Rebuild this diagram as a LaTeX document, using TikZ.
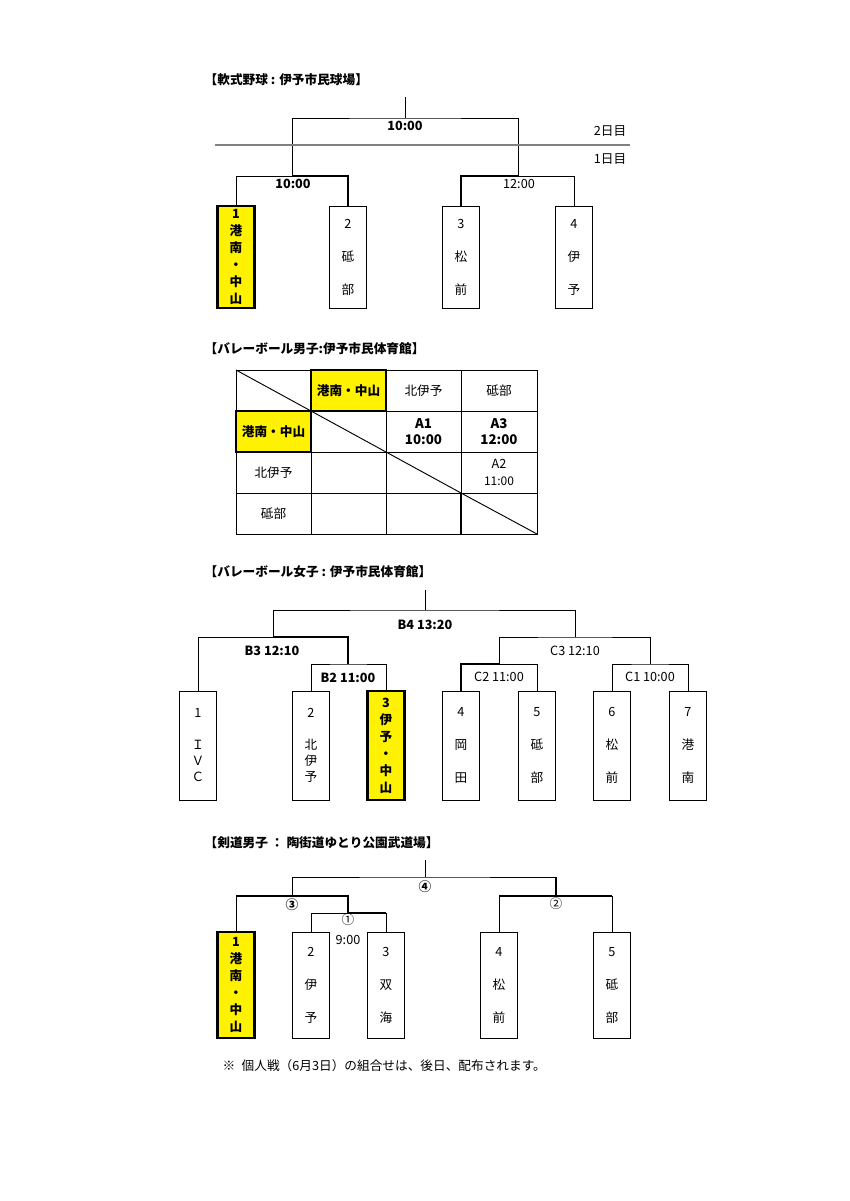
\documentclass[tikz,border=0pt]{standalone}
\usepackage{fontspec}
\setmainfont{Noto Sans CJK JP}
\setsansfont{Noto Sans CJK JP}
\begin{document}
\begin{tikzpicture}[x=0.75pt,y=-0.75pt,
  f/.style={font=\fontsize{9.5}{11}\selectfont},
  fb/.style={font=\fontsize{9.5}{11}\selectfont\bfseries},
  ttl/.style={anchor=west,font=\fontsize{9.5}{11}\selectfont\bfseries},
  box/.style={draw,line width=0.6pt,minimum width=27.75pt,inner sep=0pt,align=center},
  ybox/.style={box,fill=yellow,line width=1.6pt},
  ln/.style={line width=0.7pt},
  tk/.style={line width=1.5pt},
  sp33/.style={font=\fontsize{9.5}{24.75}\selectfont},
  sp17/.style={font=\fontsize{9.5}{12.75}\selectfont\bfseries},
  sp16/.style={font=\fontsize{9.5}{12}\selectfont}]
\useasboundingbox (0,0) rectangle (849,1201);
% ===== baseball
\node[ttl] (t1) at (200,80) {【軟式野球 : 伊予市民球場】};
\node[ybox,minimum height=76.5pt,sp17] (a1) at (236,257) {1\\港\\南\\・\\中\\山};
\node[box,minimum height=76.5pt,sp33] (a2) at (348,257) {2\\砥\\部};
\node[box,minimum height=76.5pt,sp33] (a3) at (461,257) {3\\松\\前};
\node[box,minimum height=76.5pt,sp33] (a4) at (574,257) {4\\伊\\予};
\coordinate (aL) at (292,176); \coordinate (aR) at (518,176);
\coordinate (aT) at (405,118); \coordinate (aTop) at (405,97);
\draw[ln] (a1.north) |- (aL); \draw[tk] (aL) -| (a2.north);
\draw[tk] (a3.north) |- (aR); \draw[ln] (aR) -| (a4.north);
\draw[ln] (aL) |- (aT) -| (aR); \draw[ln] (aT) -- (aTop);
\draw[gray,line width=1pt] (215,145) -- (630,145);
\node[fb] at (405,126) {10:00};
\node[fb] at (293,184) {10:00};
\node[f] at (519,184) {12:00};
\node[f] at (610,131) {2日目};
\node[f] at (610,159) {1日目};
% ===== volleyball men
\node[ttl] (t2) at (200,349) {【バレーボール男子:伊予市民体育館】};
\draw[ln] (236,370) rectangle (537,534);
\foreach \x in {311,386,461} \draw[ln] (\x,370) -- (\x,534);
\foreach \y in {411,452,493} \draw[ln] (236,\y) -- (537,\y);
\draw[ln] (236,370) -- (311,411);
\draw[ln] (311,411) -- (461,493);
\draw[ln] (461,493) -- (537,534);
\draw[tk] (461,493) -- (461,534);
\node[ybox,minimum width=56.25pt,minimum height=30.75pt,fb] (m1) at (348.5,390.5) {港南・中山};
\node[ybox,minimum width=56.25pt,minimum height=30.75pt,fb] (m2) at (273.5,431.5) {港南・中山};
\node[f] at (423.5,390.5) {北伊予};
\node[f] at (499,390.5) {砥部};
\node[f] at (273.5,472.5) {北伊予};
\node[f] at (273.5,513.5) {砥部};
\node[fb,align=center,font=\fontsize{10}{12}\selectfont\bfseries] at (423.5,431.5) {A1\\10:00};
\node[fb,align=center,font=\fontsize{10}{12}\selectfont\bfseries] at (499,431.5) {A3\\12:00};
\node[f,align=center,font=\fontsize{9.5}{12.5}\selectfont] at (499,472.5) {A2\\{\small 11:00}};
% ===== volleyball women
\node[ttl] (t3) at (200,572) {【バレーボール女子 : 伊予市民体育館】};
\node[box,minimum height=81.75pt,sp16] (b1) at (198,745.5) {1\\[12pt]Ｉ\\Ｖ\\Ｃ};
\node[box,minimum height=81.75pt,sp16] (b2) at (311,745.5) {2\\[12pt]北\\伊\\予};
\node[ybox,minimum height=81.75pt,sp17] (b3) at (386,745.5) {3\\伊\\予\\・\\中\\山};
\node[box,minimum height=81.75pt,sp33] (b4) at (461,745.5) {4\\岡\\田};
\node[box,minimum height=81.75pt,sp33] (b5) at (537,745.5) {5\\砥\\部};
\node[box,minimum height=81.75pt,sp33] (b6) at (612,745.5) {6\\松\\前};
\node[box,minimum height=81.75pt,sp33] (b7) at (688,745.5) {7\\港\\南};
\coordinate (bB2) at (348,664); \coordinate (bB3) at (273,637);
\coordinate (bC2) at (499,664); \coordinate (bC1) at (650,664);
\coordinate (bC3) at (575,637); \coordinate (bB4) at (425,610); \coordinate (bTop) at (425,590);
\draw[ln] (b2.north) |- (bB2) -| (b3.north);
\draw[ln] (b1.north) |- (bB3); \draw[tk] (bB3) -| (bB2);
\draw[tk] (b4.north) |- (bC2); \draw[ln] (bC2) -| (b5.north);
\draw[ln] (b6.north) |- (bC1) -| (b7.north);
\draw[ln] (bC2) |- (bC3) -| (bC1);
\draw[ln] (bB3) |- (bB4) -| (bC3); \draw[ln] (bB4) -- (bTop);
\node[fb] at (425,625) {B4 13:20};
\node[fb] at (272,651) {B3 12:10};
\node[fb] at (348,678) {B2 11:00};
\node[f] at (575,651) {C3 12:10};
\node[f] at (499,677) {C2 11:00};
\node[f] at (650,677) {C1 10:00};
% ===== kendo
\node[ttl] (t4) at (200,843) {【剣道男子 ： 陶街道ゆとり公園武道場】};
\node[ybox,minimum height=79.5pt,sp17] (k1) at (236,985) {1\\港\\南\\・\\中\\山};
\node[box,minimum height=79.5pt,sp33] (k2) at (311,985) {2\\伊\\予};
\node[box,minimum height=79.5pt,sp33] (k3) at (386,985) {3\\双\\海};
\node[box,minimum height=79.5pt,sp33] (k4) at (499,985) {4\\松\\前};
\node[box,minimum height=79.5pt,sp33] (k5) at (612,985) {5\\砥\\部};
\coordinate (k1c) at (348,913); \coordinate (k3c) at (292,896);
\coordinate (k2c) at (556,896); \coordinate (k4c) at (425,877); \coordinate (kTop) at (425,860);
\draw[ln] (k2.north) |- (k1c); \draw[tk] (k1c) -- (386,913); \draw[ln] (386,913) -- (k3.north);
\draw[ln] (k1.north) |- (k3c); \draw[tk] (236,896) -- (348,896) -- (k1c);
\draw[ln] (k4.north) |- (k2c); \draw[tk] (499,896) -- (612,896); \draw[ln] (612,896) -- (k5.north);
\draw[ln] (k3c) |- (k4c) -| (k2c); \draw[tk] (556,877) -- (k2c); \draw[ln] (k4c) -- (kTop);
\node[fb] at (425,887) {④};
\node[fb] at (292,905) {③};
\node[f] at (348,920) {①};
\node[f] at (348,940) {9:00};
\node[f] at (556,904) {②};
\node[f,anchor=west] at (218,1066) {※\enspace 個人戦（6月3日）の組合せは、後日、配布されます。};
\end{tikzpicture}
\end{document}
